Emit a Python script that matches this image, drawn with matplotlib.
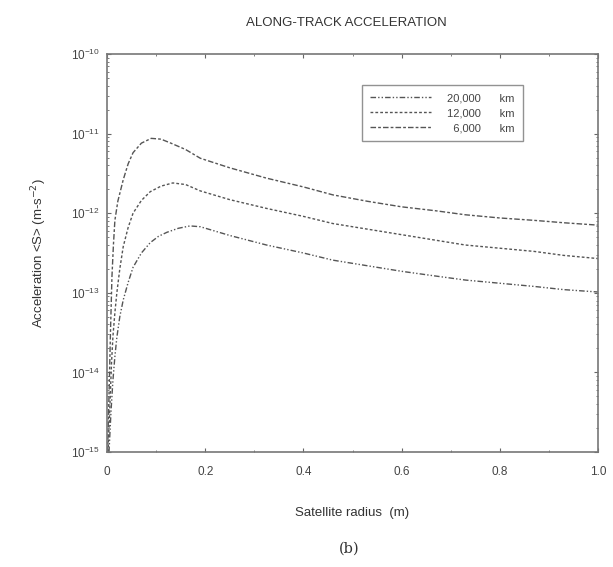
import numpy as np
import matplotlib
matplotlib.use('Agg')
from matplotlib import pyplot as plt
from matplotlib.ticker import FixedLocator, LogLocator, NullFormatter

plt.rcParams['font.family'] = ['Liberation Sans', 'DejaVu Sans']

# satellite radius (m) and log10 of acceleration
r_6000 = [0.001, 0.004, 0.007, 0.010, 0.013, 0.016, 0.022, 0.033, 0.043, 0.053, 0.07, 0.09,
          0.11, 0.13, 0.16, 0.19, 0.25, 0.325, 0.40, 0.46, 0.53, 0.60, 0.67, 0.73, 0.80, 0.87, 0.93, 1.00]
log_6000 = [-15.0, -14.3, -13.5, -12.8, -12.4, -12.09, -11.85, -11.58, -11.38, -11.24, -11.12, -11.06,
            -11.07, -11.12, -11.2, -11.31, -11.43, -11.56, -11.67, -11.77, -11.85, -11.92, -11.97, -12.02,
            -12.06, -12.09, -12.12, -12.15]

r_12000 = [0.002, 0.006, 0.009, 0.012, 0.016, 0.020, 0.026, 0.033, 0.043, 0.053, 0.07, 0.088,
           0.11, 0.134, 0.16, 0.19, 0.25, 0.325, 0.40, 0.46, 0.53, 0.60, 0.67, 0.73, 0.80, 0.87, 0.93, 1.00]
log_12000 = [-15.0, -14.4, -13.9, -13.55, -13.25, -13.0, -12.7, -12.42, -12.18, -12.0, -11.84, -11.73,
             -11.66, -11.62, -11.64, -11.72, -11.83, -11.94, -12.04, -12.13, -12.20, -12.27, -12.34, -12.40,
             -12.44, -12.48, -12.53, -12.57]

r_20000 = [0.004, 0.008, 0.012, 0.016, 0.020, 0.026, 0.033, 0.043, 0.053, 0.07, 0.088, 0.105,
           0.122, 0.145, 0.169, 0.19, 0.25, 0.325, 0.40, 0.46, 0.53, 0.60, 0.67, 0.73, 0.80, 0.87, 0.93, 1.00]
log_20000 = [-15.0, -14.5, -14.1, -13.8, -13.56, -13.3, -13.09, -12.87, -12.68, -12.5, -12.37, -12.29,
             -12.24, -12.19, -12.16, -12.17, -12.28, -12.40, -12.50, -12.59, -12.66, -12.73, -12.79, -12.84,
             -12.88, -12.92, -12.96, -12.99]

x_ticks = [0, 0.2, 0.4, 0.6, 0.8, 1.0]
x_labels = ['0', '0.2', '0.4', '0.6', '0.8', '1.0']
y_ticks = [1e-15, 1e-14, 1e-13, 1e-12, 1e-11, 1e-10]

fig = plt.figure(figsize=(6.13, 5.67), dpi=100)
ax = fig.add_axes([0.1746, 0.2028, 0.8009, 0.702])

c = '#555555'
ax.plot(r_20000, 10 ** np.array(log_20000), color=c, lw=1.0, dashes=(4, 1.5, 1, 1.5, 1, 1.5),
        label='20,000      km')
ax.plot(r_12000, 10 ** np.array(log_12000), color=c, lw=1.0, dashes=(2, 1.5),
        label='12,000      km')
ax.plot(r_6000, 10 ** np.array(log_6000), color=c, lw=1.0, dashes=(4, 1.5, 2, 1.5),
        label='\u20076,000      km')

ax.set_yscale('log')
ax.set_xlim(0, 1.0)
ax.set_ylim(1e-15, 1e-10)

ax.xaxis.set_major_locator(FixedLocator(x_ticks))
ax.set_xticklabels(x_labels)
ax.xaxis.set_minor_locator(FixedLocator([0.1, 0.3, 0.5, 0.7, 0.9]))
ax.yaxis.set_major_locator(FixedLocator(y_ticks))
ax.yaxis.set_minor_locator(LogLocator(base=10, subs=np.arange(2, 10), numticks=20))
ax.yaxis.set_minor_formatter(NullFormatter())

ax.tick_params(which='both', direction='in', top=True, right=True, colors='#666666',
               labelcolor='#444444', labelsize=8.5)
ax.tick_params(which='major', length=3, width=0.8)
ax.tick_params(which='minor', length=1.5, width=0.6)
ax.tick_params(axis='x', pad=10)
ax.tick_params(axis='y', pad=5)
for s in ax.spines.values():
    s.set_color('#777777')
    s.set_linewidth(1.2)

ax.set_xlabel('Satellite radius  (m)', fontsize=9.5, color='#333333', labelpad=21)
ax.set_ylabel('Acceleration <S> (m-s$^{-2}$)', fontsize=9.5, color='#333333', labelpad=16)
fig.text(0.565, 0.96, 'ALONG-TRACK ACCELERATION', ha='center', va='center', fontsize=9.5, color='#333333')
fig.text(0.57, 0.033, '(b)', ha='center', va='center', fontsize=10.5, family='DejaVu Serif', color='#333333')

leg = ax.legend(loc='upper right', bbox_to_anchor=(0.858, 0.935), fontsize=8, frameon=True,
                fancybox=False, handlelength=5.5, labelspacing=0.45, borderpad=0.7, handletextpad=1.5)
leg.get_frame().set_edgecolor('#777777')
leg.get_frame().set_linewidth(1.0)
for t in leg.get_texts():
    t.set_color('#444444')

fig.savefig('out.png', dpi=100)
